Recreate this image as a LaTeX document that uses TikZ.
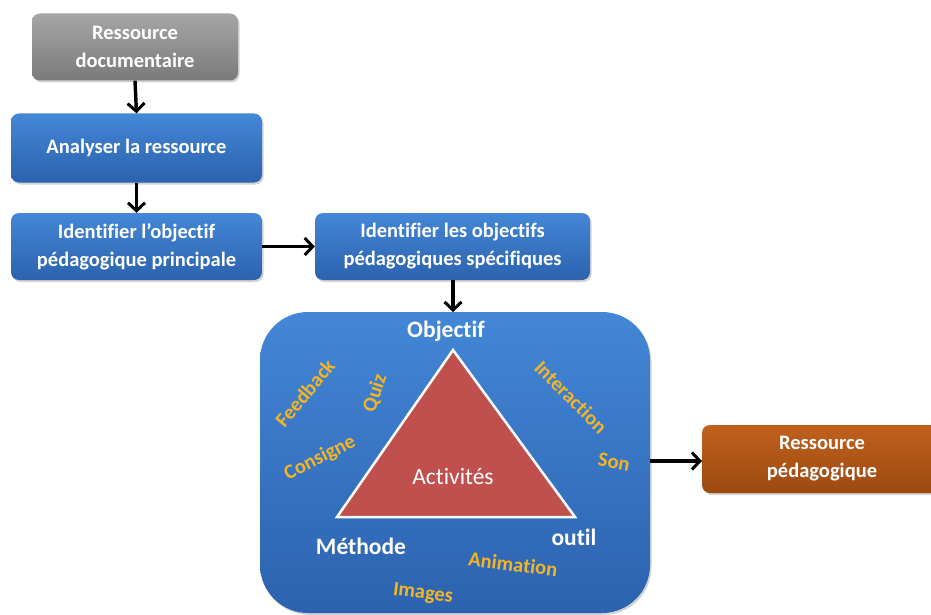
\documentclass[tikz,border=0pt]{standalone}
\usepackage{fontspec}
\setmainfont{Carlito}[Ligatures=CommonOff]
\usetikzlibrary{shadows,arrows.meta}
\definecolor{bluetop}{HTML}{4387D6}
\definecolor{bluebot}{HTML}{2C62AE}
\definecolor{graytop}{HTML}{A6A6A6}
\definecolor{graybot}{HTML}{7A7A7A}
\definecolor{orangetop}{HTML}{C0601E}
\definecolor{orangebot}{HTML}{9C4A10}
\definecolor{tri}{HTML}{C0504D}
\definecolor{gold}{HTML}{F2B526}
\tikzset{
  box/.style={rounded corners=8pt, inner sep=0pt, align=center, text=white,
    font=\fontsize{20.5}{28}\selectfont\bfseries,
    drop shadow={shadow xshift=1.5pt, shadow yshift=-2pt, opacity=0.35}},
  bluebox/.style={box, top color=bluetop, bottom color=bluebot},
  graybox/.style={box, top color=graytop, bottom color=graybot},
  orangebox/.style={box, top color=orangetop, bottom color=orangebot},
  conn/.style={-{Straight Barb[length=8pt,width=17pt,line width=3pt]}, line width=3.4pt, black},
  word/.style={text=gold, font=\fontsize{20.5}{24}\selectfont\bfseries, inner sep=0pt},
  corner/.style={text=white, font=\fontsize{23.5}{27}\selectfont\bfseries, inner sep=0pt}
}
\begin{document}
\begin{tikzpicture}[x=1pt,y=-1pt]
\useasboundingbox (0,0) rectangle (931,615);
\node[graybox, minimum width=206pt, minimum height=67pt] (src) at (135,47) {Ressource\\documentaire};
\node[bluebox, minimum width=251pt, minimum height=69pt] (ana) at (136.5,148) {Analyser la ressource};
\node[bluebox, minimum width=251pt, minimum height=67pt] (obj) at (136.5,246.5) {Identifier l’objectif\\pédagogique principale};
\node[bluebox, minimum width=275pt, minimum height=67pt] (spec) at (452.5,246.5) {Identifier les objectifs\\pédagogiques spécifiques};
\node[box, rounded corners=48pt, top color=bluetop, bottom color=bluebot, minimum width=390pt, minimum height=301pt] (big) at (455,462.5) {};
\node[orangebox, minimum width=240pt, minimum height=68pt] (res) at (822,459) {Ressource\\pédagogique};
\coordinate (resw) at (702,461);
\coordinate (bige) at (650,461);

\draw[conn] (src.south) -- (ana.north);
\draw[conn] (ana.south) -- (obj.north);
\draw[conn] (obj.east) -- (spec.west);
\draw[conn] (spec.south -| 453,0) -- (453,312);
\draw[conn] (bige) -- (resw);

% triangle
\coordinate (ta) at (453,350);
\coordinate (tl) at (337,517);
\coordinate (tr) at (575,517);
\draw[fill=tri, draw=white, line width=2.5pt, line join=miter] (ta) -- (tl) -- (tr) -- cycle;
\node[text=white, font=\fontsize{23.5}{27}\selectfont, inner sep=0pt] (act) at (453,476) {Activités};

\node[corner] (lo) at (446,331) {Objectif};
\node[corner] (lm) at (361,546) {Méthode};
\node[corner] (lt) at (574,537) {outil};

\node[word, rotate=50] (w1) at (305,393) {Feedback};
\node[word, rotate=72] (w2) at (375,393) {Quiz};
\node[word, rotate=27] (w3) at (320,458) {Consigne};
\node[word, rotate=-45] (w4) at (571,397) {Interaction};
\node[word, rotate=-10] (w5) at (614,462) {Son};
\node[word, rotate=-7] (w6) at (513,564) {Animation};
\node[word, rotate=-7] (w7) at (423,594) {Images};
\end{tikzpicture}
\end{document}
